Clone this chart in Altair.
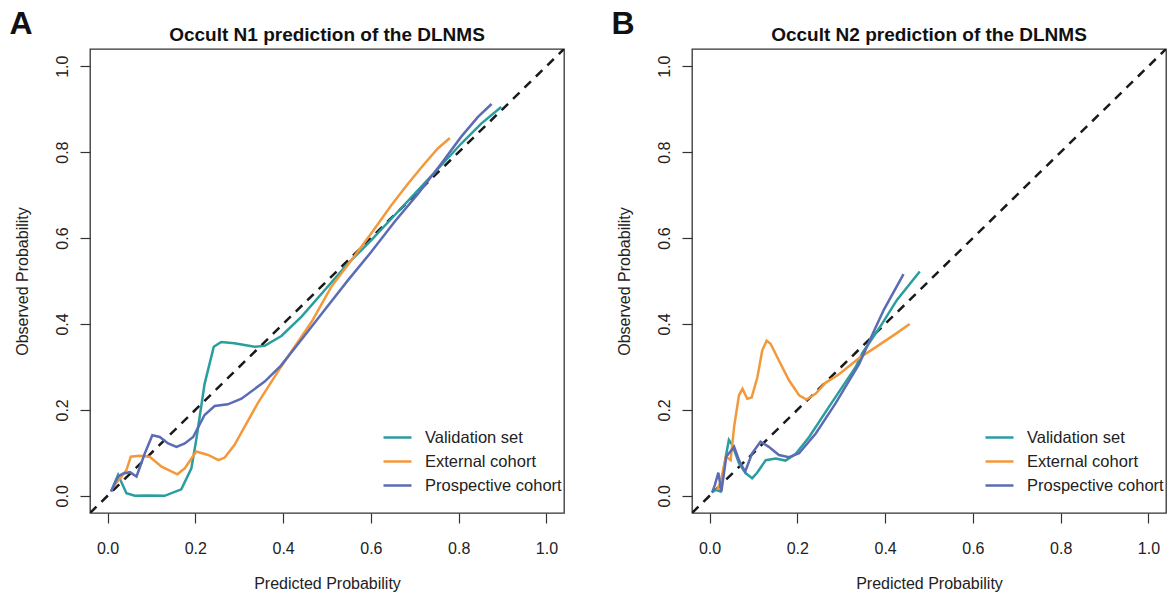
import altair as alt
import pandas as pd

# ---------------- data ----------------
series_names = ["Validation set", "External cohort", "Prospective cohort"]
series_colors = ["#2a9d9f", "#f3993b", "#5b6cb4"]
tick_values = [0.0, 0.2, 0.4, 0.6, 0.8, 1.0]
diag_vals = [-0.04, 1.04]

# Panel A : Occult N1
a_val_x = [0.008, 0.024, 0.043, 0.062, 0.092, 0.130, 0.168, 0.191, 0.202, 0.221, 0.242, 0.259, 0.289,
           0.335, 0.358, 0.396, 0.442, 0.495, 0.548, 0.601, 0.654, 0.708, 0.761, 0.806, 0.852, 0.897]
a_val_y = [0.010, 0.049, 0.006, 0.000, 0.001, 0.000, 0.015, 0.064, 0.130, 0.260, 0.347, 0.358, 0.355,
           0.347, 0.349, 0.372, 0.417, 0.479, 0.541, 0.595, 0.653, 0.712, 0.770, 0.820, 0.867, 0.905]
a_ext_x = [0.013, 0.032, 0.043, 0.053, 0.073, 0.096, 0.123, 0.159, 0.176, 0.202, 0.229, 0.253, 0.267,
           0.289, 0.342, 0.395, 0.441, 0.465, 0.510, 0.556, 0.601, 0.647, 0.685, 0.723, 0.753, 0.780]
a_ext_y = [0.022, 0.045, 0.060, 0.091, 0.093, 0.091, 0.068, 0.050, 0.064, 0.103, 0.095, 0.083, 0.089,
           0.118, 0.215, 0.300, 0.369, 0.405, 0.487, 0.549, 0.611, 0.677, 0.727, 0.774, 0.809, 0.833]
a_pro_x = [0.008, 0.024, 0.036, 0.051, 0.066, 0.085, 0.102, 0.119, 0.138, 0.157, 0.176, 0.195, 0.221, 0.244,
           0.274, 0.305, 0.358, 0.395, 0.442, 0.495, 0.548, 0.601, 0.654, 0.708, 0.761, 0.806, 0.844, 0.875]
a_pro_y = [0.010, 0.045, 0.052, 0.055, 0.045, 0.099, 0.141, 0.137, 0.122, 0.114, 0.122, 0.137, 0.188, 0.209,
           0.213, 0.226, 0.266, 0.303, 0.364, 0.433, 0.502, 0.568, 0.638, 0.704, 0.774, 0.836, 0.882, 0.912]

# Panel B : Occult N2
b_val_x = [0.005, 0.014, 0.025, 0.037, 0.044, 0.052, 0.067, 0.082, 0.097, 0.108, 0.128, 0.151, 0.173,
           0.196, 0.227, 0.272, 0.333, 0.348, 0.389, 0.427, 0.479]
b_val_y = [0.008, 0.014, 0.010, 0.091, 0.130, 0.118, 0.076, 0.053, 0.041, 0.053, 0.083, 0.087, 0.082,
           0.097, 0.137, 0.207, 0.300, 0.332, 0.394, 0.456, 0.522]
b_ext_x = [0.017, 0.025, 0.037, 0.043, 0.048, 0.056, 0.067, 0.075, 0.086, 0.096, 0.109, 0.120, 0.130,
           0.139, 0.158, 0.181, 0.204, 0.221, 0.242, 0.264, 0.295, 0.341, 0.379, 0.424, 0.456]
b_ext_y = [0.014, 0.031, 0.091, 0.087, 0.083, 0.161, 0.234, 0.249, 0.226, 0.229, 0.276, 0.338, 0.361,
           0.354, 0.315, 0.269, 0.234, 0.224, 0.238, 0.263, 0.283, 0.321, 0.346, 0.377, 0.400]
b_pro_x = [0.006, 0.012, 0.020, 0.027, 0.038, 0.056, 0.067, 0.081, 0.097, 0.116, 0.135, 0.158, 0.181,
           0.204, 0.242, 0.287, 0.341, 0.372, 0.397, 0.442]
b_pro_y = [0.008, 0.025, 0.054, 0.010, 0.091, 0.114, 0.083, 0.056, 0.099, 0.126, 0.114, 0.095, 0.090,
           0.099, 0.145, 0.215, 0.307, 0.378, 0.433, 0.516]

FONT = "Liberation Sans"
W, H = 474, 464


def make_df(series):
    rows = []
    for name, xs, ys in series:
        for i, (x, y) in enumerate(zip(xs, ys)):
            rows.append({"series": name, "x": x, "y": y, "order": i})
    return pd.DataFrame(rows)


def panel(title, letter, series):
    df = make_df(series)
    diag_df = pd.DataFrame({"x": diag_vals, "y": diag_vals})
    xscale = alt.Scale(domain=[-0.04, 1.04], nice=False, zero=False)
    yscale = alt.Scale(domain=[-0.04, 1.04], nice=False, zero=False)
    xaxis = alt.Axis(values=tick_values, format=".1f", title="Predicted Probability",
                     grid=False, domain=False, tickSize=10, tickColor="#333", tickWidth=1.2,
                     labelFontSize=16, labelColor="#222", labelPadding=17, labelFont=FONT,
                     titleFontSize=16, titleFontWeight="normal", titleColor="#222", titleFont=FONT,
                     titleX=W / 2, titleY=70, titleBaseline="middle", titleAlign="center")
    yaxis = alt.Axis(values=tick_values, format=".1f", title="Observed Probability",
                     grid=False, domain=False, tickSize=10, tickColor="#333", tickWidth=1.2,
                     labelFontSize=16, labelColor="#222", labelPadding=13, labelFont=FONT,
                     labelAngle=270, labelAlign="center", labelBaseline="alphabetic",
                     titleFontSize=16, titleFontWeight="normal", titleColor="#222", titleFont=FONT,
                     titleAngle=270, titleX=-68, titleY=H / 2, titleBaseline="middle",
                     titleAlign="center")
    legend = alt.Legend(title=None, orient="none", legendX=296, legendY=377,
                        symbolType="M-1.4,0H1.4", symbolSize=400, symbolStrokeWidth=2.5,
                        labelFontSize=16.5, labelFont=FONT, labelColor="#222",
                        labelOffset=16, rowPadding=4, padding=0)
    diag = alt.Chart(diag_df).mark_line(color="#1a1a1a", strokeDash=[9, 7], strokeWidth=2.5,
                                        clip=True).encode(
        x=alt.X("x:Q", scale=xscale, axis=xaxis),
        y=alt.Y("y:Q", scale=yscale, axis=yaxis),
    )
    lines = alt.Chart(df).mark_line(strokeWidth=2.5, clip=True).encode(
        x=alt.X("x:Q", scale=xscale, axis=xaxis),
        y=alt.Y("y:Q", scale=yscale, axis=yaxis),
        color=alt.Color("series:N", scale=alt.Scale(domain=series_names, range=series_colors),
                        legend=legend),
        order="order:Q",
    )
    lab = alt.Chart(pd.DataFrame({"t": [letter]})).mark_text(
        fontSize=32, fontWeight="bold", font=FONT, color="#111", align="center",
        baseline="alphabetic").encode(text="t:N", x=alt.value(-69), y=alt.value(-15))
    return alt.layer(diag, lines, lab).properties(
        width=W, height=H,
        title=alt.TitleParams(text=title, fontSize=19, fontWeight="bold", font=FONT,
                              color="#111", anchor="middle", offset=-37),
    )


pa = panel("Occult N1 prediction of the DLNMS", "A",
           [(series_names[0], a_val_x, a_val_y),
            (series_names[1], a_ext_x, a_ext_y),
            (series_names[2], a_pro_x, a_pro_y)])
pb = panel("Occult N2 prediction of the DLNMS", "B",
           [(series_names[0], b_val_x, b_val_y),
            (series_names[1], b_ext_x, b_ext_y),
            (series_names[2], b_pro_x, b_pro_y)])

chart = alt.hconcat(pa, pb, spacing=45).resolve_legend(color="independent").properties(
    padding={"left": 8, "top": 7, "right": 0, "bottom": 0}
).configure(font=FONT).configure_view(stroke="#333", strokeWidth=1.3)

chart.save("out.html", embed_options={"renderer": "svg", "actions": False})
